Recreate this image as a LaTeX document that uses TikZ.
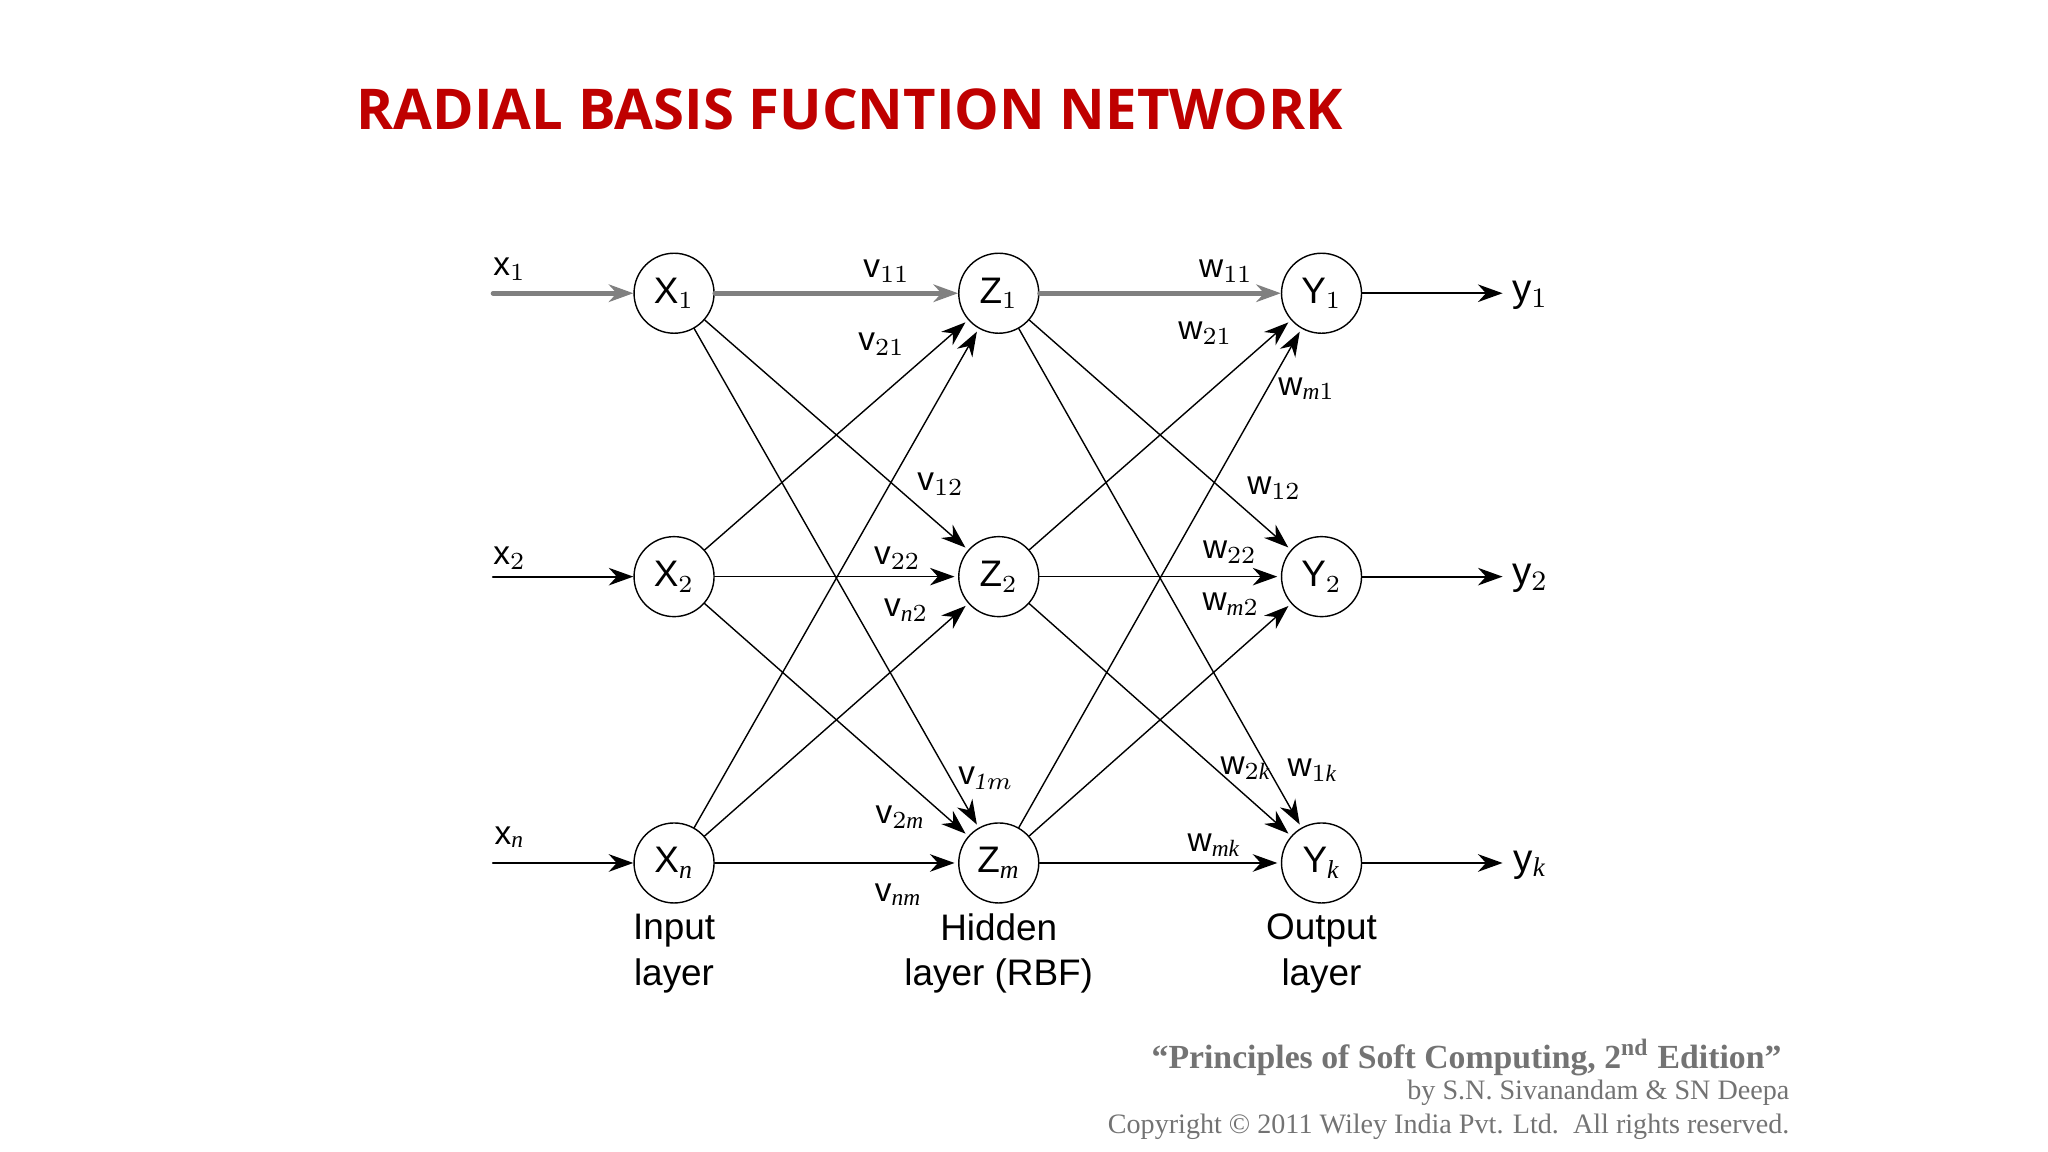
\documentclass[tikz,border=0pt]{standalone}
\usepackage{fontspec}
\setmainfont{Liberation Serif}
\newfontfamily\titlefont{Open Sans}
\newfontfamily\labfont{Liberation Sans}
\usetikzlibrary{arrows.meta}
\definecolor{titlered}{rgb}{0.75,0.,0.}
\definecolor{footgray}{rgb}{0.45,0.45,0.45}
\definecolor{linegray}{rgb}{0.5,0.5,0.5}

\begin{document}
\begin{tikzpicture}[line cap=round,line join=round,>={Stealth[length=7pt,width=5pt]},x=0.984cm,y=0.984cm,
	neuron/.style={draw,circle,minimum size=0.8cm,inner sep=0pt,font=\labfont\fontsize{10.5}{12}\selectfont},
	wlab/.style={font=\labfont\fontsize{9.5}{11}\selectfont},
	link/.style={->,thin,shorten >=1pt},
	toplink/.style={->,line width=1.3pt,color=linegray}]
	\useasboundingbox (0,0) rectangle (20.813,-11.707);
	\node[font=\titlefont\bfseries\fontsize{16}{19}\selectfont,color=titlered,anchor=west] (title) at (3.50,-1.11) {RADIAL BASIS FUCNTION NETWORK};
	% neurons
	\node[neuron] (X1) at (6.85,-2.98) {X$_1$};
	\node[neuron] (X2) at (6.85,-5.86) {X$_2$};
	\node[neuron] (Xn) at (6.85,-8.77) {X$_{\mathit n}$};
	\node[neuron] (Z1) at (10.15,-2.98) {Z$_1$};
	\node[neuron] (Z2) at (10.15,-5.86) {Z$_2$};
	\node[neuron] (Zm) at (10.15,-8.77) {Z$_{\mathit m}$};
	\node[neuron] (Y1) at (13.43,-2.98) {Y$_1$};
	\node[neuron] (Y2) at (13.43,-5.86) {Y$_2$};
	\node[neuron] (Yk) at (13.43,-8.77) {Y$_{\mathit k}$};
	% inputs and outputs
	\coordinate (in1) at (5.01,-2.98);
	\coordinate (in2) at (5.01,-5.86);
	\coordinate (inn) at (5.01,-8.77);
	\coordinate (out1) at (15.27,-2.98);
	\coordinate (out2) at (15.27,-5.86);
	\coordinate (outk) at (15.27,-8.77);
	\draw[toplink] (in1) -- (X1);
	\draw[->,semithick] (in2) -- (X2);
	\draw[->,semithick] (inn) -- (Xn);
	\draw[->,semithick] (Y1) -- (out1);
	\draw[->,semithick] (Y2) -- (out2);
	\draw[->,semithick] (Yk) -- (outk);
	\node[wlab] (lx1) at (5.18,-2.74) {x$_1$};
	\node[wlab] (lx2) at (5.18,-5.67) {x$_2$};
	\node[wlab] (lxn) at (5.18,-8.51) {x$_{\mathit n}$};
	\node[wlab,font=\labfont\fontsize{11}{13}\selectfont] (ly1) at (15.55,-3.00) {y$_1$};
	\node[wlab,font=\labfont\fontsize{11}{13}\selectfont] (ly2) at (15.55,-5.88) {y$_2$};
	\node[wlab,font=\labfont\fontsize{11}{13}\selectfont] (lyk) at (15.55,-8.79) {y$_{\mathit k}$};
	% connections
	\draw[toplink] (X1) -- (Z1);
	\draw[toplink] (Z1) -- (Y1);
	\foreach \s/\t in {X1/Z2,X1/Zm,X2/Z1,X2/Z2,X2/Zm,Xn/Z1,Xn/Z2,Xn/Zm,
		Z1/Y2,Z1/Yk,Z2/Y1,Z2/Y2,Z2/Yk,Zm/Y1,Zm/Y2,Zm/Yk}{
		\draw[link] (\s) -- (\t);
	}
	% weight labels
	\node[wlab] (v11) at (9.01,-2.76) {v$_{11}$};
	\node[wlab] (v21) at (8.96,-3.50) {v$_{21}$};
	\node[wlab] (v12) at (9.56,-4.92) {v$_{12}$};
	\node[wlab] (v22) at (9.12,-5.67) {v$_{22}$};
	\node[wlab] (vn2) at (9.21,-6.20) {v$_{\mathit n2}$};
	\node[wlab] (v1m) at (10.02,-7.91) {v$_{\mathit 1m}$};
	\node[wlab] (v2m) at (9.15,-8.30) {v$_{2\mathit m}$};
	\node[wlab] (vnm) at (9.13,-9.09) {v$_{\mathit{nm}}$};
	\node[wlab] (w11) at (12.46,-2.76) {w$_{11}$};
	\node[wlab] (w21) at (12.25,-3.39) {w$_{21}$};
	\node[wlab] (wm1) at (13.28,-3.95) {w$_{\mathit m1}$};
	\node[wlab] (w12) at (12.95,-4.96) {w$_{12}$};
	\node[wlab] (w22) at (12.50,-5.61) {w$_{22}$};
	\node[wlab] (wm2) at (12.51,-6.14) {w$_{\mathit m2}$};
	\node[wlab] (w2k) at (12.66,-7.81) {w$_{2\mathit k}$};
	\node[wlab] (w1k) at (13.34,-7.83) {w$_{1\mathit k}$};
	\node[wlab] (wmk) at (12.34,-8.59) {w$_{\mathit{mk}}$};
	% layer names
	\node[font=\labfont\fontsize{10.5}{13}\selectfont,align=center] (inlayer) at (6.85,-9.69) {Input\\layer};
	\node[font=\labfont\fontsize{10.5}{13}\selectfont,align=center] (hidlayer) at (10.15,-9.69) {Hidden\\layer (RBF)};
	\node[font=\labfont\fontsize{10.5}{13}\selectfont,align=center] (outlayer) at (13.43,-9.69) {Output\\layer};
	% footer
	\node[color=footgray,anchor=east,font=\fontsize{9.6}{12}\selectfont\bfseries] (book) at (18.23,-10.75) {``Principles of Soft Computing, 2\textsuperscript{nd} Edition''};
	\node[color=footgray,anchor=east,font=\fontsize{8}{10}\selectfont] (authors) at (18.31,-11.11) {by S.N. Sivanandam \& SN Deepa};
	\node[color=footgray,anchor=east,font=\fontsize{8}{10}\selectfont] (copy) at (18.31,-11.45) {Copyright \textcopyright\ 2011 Wiley India Pvt. Ltd.\ \ All rights reserved.};
\end{tikzpicture}
\end{document}
